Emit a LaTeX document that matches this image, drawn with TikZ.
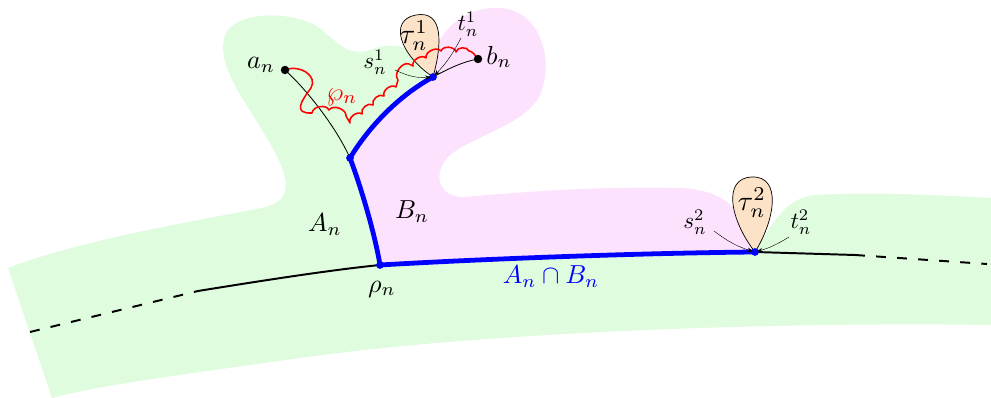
\documentclass[tikz,border=0pt]{standalone}
\usepackage{graphicx}
\usetikzlibrary{arrows.meta}
\definecolor{gfill}{RGB}{223,252,223}
\definecolor{pfill}{RGB}{253,226,253}
\definecolor{ofill}{RGB}{252,226,198}
\definecolor{bl}{RGB}{0,0,255}
\newcommand{\Lbig}[1]{\scalebox{1.85}{#1}}
\newcommand{\Ltau}[1]{\scalebox{2.0}{#1}}
\newcommand{\Lsmall}[1]{\scalebox{1.65}{#1}}
\begin{document}
\begin{tikzpicture}[x=0.025cm,y=-0.025cm,
  lbl/.style={inner sep=1pt},
  mainline/.style={line width=1.4pt},
  thinline/.style={line width=0.6pt},
  blueline/.style={bl,line width=3.4pt},
  redpath/.style={red,line width=1.1pt,line join=round},
  bump/.style={bend left=75},
  lblarrow/.style={line width=0.3pt,-{Stealth[length=4pt,width=3pt]},shorten >=1.5pt},
  blackdot/.style={circle,fill=black,inner sep=0pt,minimum size=6pt},
  bluedot/.style={circle,fill=bl,inner sep=0pt,minimum size=5.5pt},
  drop/.style={draw=black,fill=ofill,line width=0.5pt}]
\useasboundingbox (0,0) rectangle (991,398);
% green region
\fill[gfill] (8,268) .. controls (80,240) and (200,220) .. (262,208)
  .. controls (300,200) and (285,170) .. (268,140)
  .. controls (245,100) and (215,65) .. (225,35)
  .. controls (235,12) and (285,10) .. (315,25)
  .. controls (335,38) and (345,58) .. (370,50)
  .. controls (390,42) and (410,45) .. (425,60)
  -- (440,200) -- (750,250)
  .. controls (770,240) and (775,200) .. (815,195)
  .. controls (870,192) and (940,195) .. (991,198)
  -- (991,325)
  .. controls (800,322) and (500,330) .. (300,358)
  .. controls (180,375) and (100,385) .. (52,398) -- cycle;
% pink region
\fill[pfill] (433,77) .. controls (400,95) and (370,125) .. (350,158)
  .. controls (362,190) and (375,235) .. (380,265)
  .. controls (500,258) and (650,253) .. (755,252)
  .. controls (745,215) and (730,190) .. (680,188)
  .. controls (600,186) and (520,192) .. (465,197)
  .. controls (440,198) and (430,175) .. (450,155)
  .. controls (475,135) and (525,125) .. (540,95)
  .. controls (555,60) and (540,10) .. (500,8)
  .. controls (470,6) and (445,25) .. (438,45)
  -- cycle;
% points
\coordinate (an) at (285,70);
\coordinate (bn) at (478,59);
\coordinate (p1) at (433,77);
\coordinate (q) at (350,158);
\coordinate (rho) at (380,265);
\coordinate (p2) at (755,252);
\coordinate (l1) at (198,291);
\coordinate (l0) at (30,332);
\coordinate (r1) at (855,255);
\coordinate (r0) at (987,264);
% black lines
\draw[mainline] (l1) .. controls (260,281) and (330,270) .. (rho);
\draw[mainline,dash pattern=on 7pt off 8pt] (l0) -- (l1);
\draw[mainline] (p2) -- (r1);
\draw[mainline,dash pattern=on 7pt off 8pt] (r1) -- (r0);
\draw[thinline] (an) .. controls (305,88) and (335,125) .. (q);
\draw[thinline] (p1) .. controls (450,68) and (462,62) .. (bn);
% blue path
\draw[blueline,line join=round] (p1) .. controls (400,95) and (370,125) .. (q)
  .. controls (362,190) and (375,235) .. (rho)
  .. controls (500,258) and (650,253) .. (p2);
% drops
\draw[drop] (p1) .. controls (400,55) and (388,20) .. (416,15)
  .. controls (444,10) and (442,45) .. (p1);
\draw[drop] (p2) .. controls (730,220) and (722,178) .. (752,177)
  .. controls (782,176) and (775,220) .. (p2);
% red path
\draw[redpath] (an) .. controls (300,64) and (318,76) .. (311,88)
  .. controls (302,100) and (292,114) .. (312,113)
  to[bump] (329,110) to[bump] (346,116) -- (350,123)
  to[bump] (362,114) to[bump] (373,105) to[bump] (384,96) to[bump] (396,87)
  -- (398,80) to[bump] (409,64)
  -- (413,66) to[bump] (426,58) to[bump] (441,51) to[bump] (456,52) to[bump] (469,51)
  .. controls (472,51) and (475,55) .. (bn);
% dots
\node[blackdot] (andot) at (an) {};
\node[blackdot] (bndot) at (bn) {};
\node[bluedot] (p1dot) at (p1) {};
\node[bluedot] (qdot) at (q) {};
\node[bluedot] (rhodot) at (rho) {};
\node[bluedot] (p2dot) at (p2) {};
% labels
\node[lbl] (anl) at (261,65) {\Lbig{$a_n$}};
\node[lbl] (bnl) at (499,57) {\Lbig{$b_n$}};
\node[lbl,red] (wpl) at (342,97) {\Lbig{$\wp_n$}};
\node[lbl] (tau1) at (414,36) {\Ltau{$\tau_n^1$}};
\node[lbl] (tau2) at (752,203) {\Ltau{$\tau_n^2$}};
\node[lbl] (Anl) at (325,225) {\Lbig{$A_n$}};
\node[lbl] (Bnl) at (412,212) {\Lbig{$B_n$}};
\node[lbl] (rhol) at (382,289) {\Lbig{$\rho_n$}};
\node[lbl,bl] (capl) at (551,277) {\Lbig{$A_n\cap B_n$}};
\node[lbl] (s1) at (375,62) {\Lsmall{$s_n^1$}};
\node[lbl] (t1) at (468,24) {\Lsmall{$t_n^1$}};
\node[lbl] (s2) at (695,222) {\Lsmall{$s_n^2$}};
\node[lbl] (t2) at (801,222) {\Lsmall{$t_n^2$}};
\draw[lblarrow] (395,70) to[bend right=15] (p1);
\draw[lblarrow] (461,38) to[bend left=8] (p1);
\draw[lblarrow] (714,231) to[bend right=10] (p2);
\draw[lblarrow] (789,237) to[bend left=8] (p2);
\end{tikzpicture}
\end{document}
